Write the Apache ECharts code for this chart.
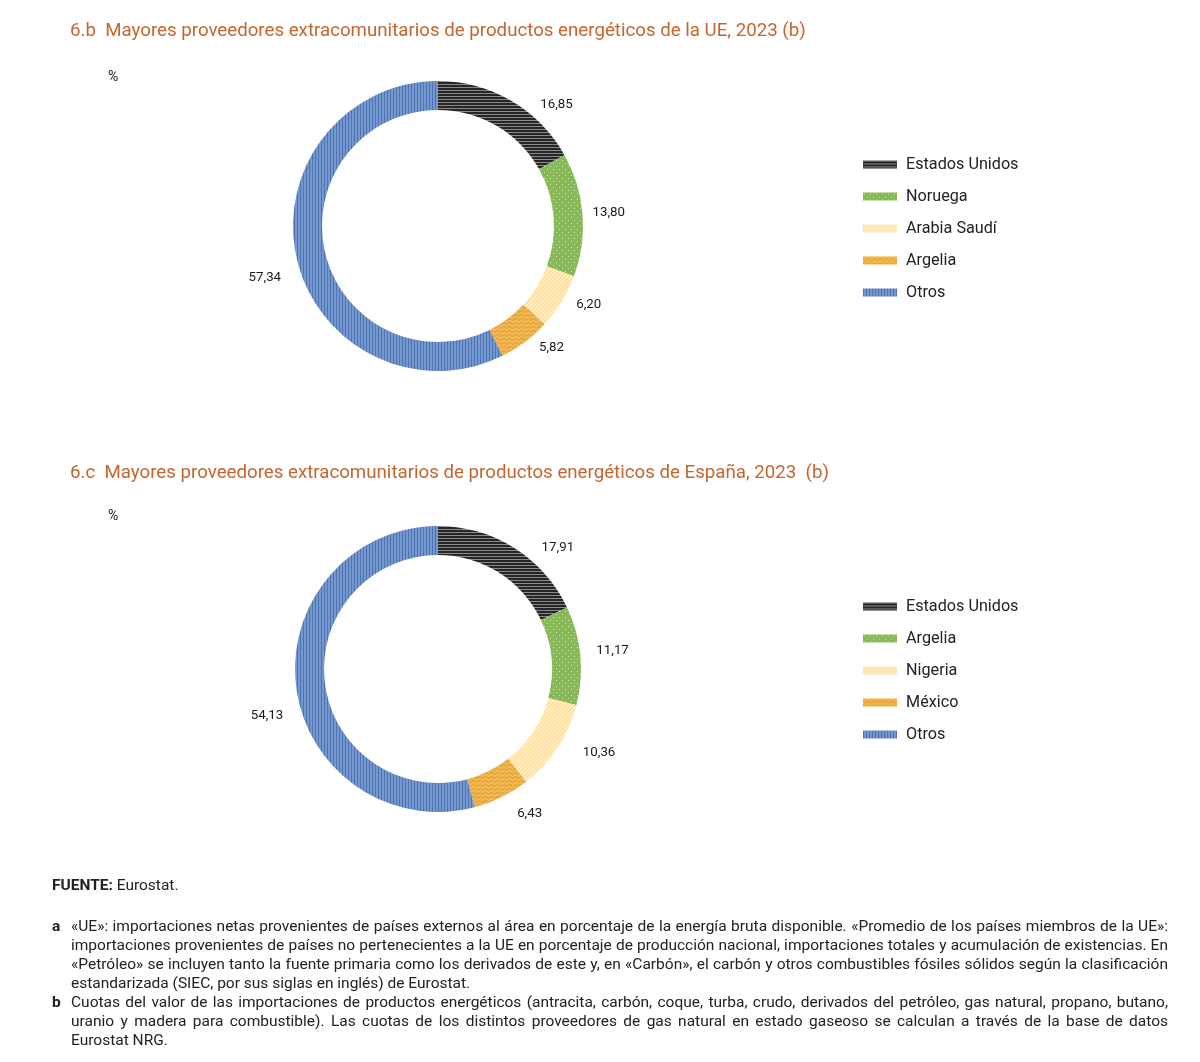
<!DOCTYPE html>
<html>
<head>
<meta charset="utf-8">
<script src="https://cdn.jsdelivr.net/npm/echarts@6/dist/echarts.min.js"></script>
<style>
  body { margin: 0; background: #fff; font-family: Roboto, sans-serif; }
  #wrap { position: relative; width: 1200px; height: 1062px; }
  .chart { position: absolute; left: 0; width: 1200px; height: 440px; }
  #notes { position: absolute; left: 52px; top: 876px; width: 1116px; color: #222; font-size: 15.5px; line-height: 19px; }
  #notes .src { margin-bottom: 22px; }
  #notes .row { display: flex; }
  #notes .row b { width: 19px; flex: none; }
  #notes .row .txt { flex: 1; }
  #notes .ln { text-align: justify; text-align-last: justify; }
  #notes .ln.last { text-align-last: left; }
</style>
</head>
<body>
<div id="wrap">
  <div id="c1" class="chart" style="top:0"></div>
  <div id="c2" class="chart" style="top:442px"></div>
  <div id="notes">
    <div class="src"><b>FUENTE:</b> Eurostat.</div>
    <div class="row"><b>a</b><div class="txt">
      <div class="ln">«UE»: importaciones netas provenientes de países externos al área en porcentaje de la energía bruta disponible. «Promedio de los países miembros de la UE»:</div>
      <div class="ln">importaciones provenientes de países no pertenecientes a la UE en porcentaje de producción nacional, importaciones totales y acumulación de existencias. En</div>
      <div class="ln">«Petróleo» se incluyen tanto la fuente primaria como los derivados de este y, en «Carbón», el carbón y otros combustibles fósiles sólidos según la clasificación</div>
      <div class="ln last">estandarizada (SIEC, por sus siglas en inglés) de Eurostat.</div>
    </div></div>
    <div class="row"><b>b</b><div class="txt">
      <div class="ln">Cuotas del valor de las importaciones de productos energéticos (antracita, carbón, coque, turba, crudo, derivados del petróleo, gas natural, propano, butano,</div>
      <div class="ln">uranio y madera para combustible). Las cuotas de los distintos proveedores de gas natural en estado gaseoso se calculan a través de la base de datos</div>
      <div class="ln last">Eurostat NRG.</div>
    </div></div>
  </div>
</div>
<script>
// 6.b  UE
var ueNames = ['Estados Unidos', 'Noruega', 'Arabia Saudí', 'Argelia', 'Otros'];
var ueValues = [16.85, 13.80, 6.20, 5.82, 57.34];
// 6.c  España
var esNames = ['Estados Unidos', 'Argelia', 'Nigeria', 'México', 'Otros'];
var esValues = [17.91, 11.17, 10.36, 6.43, 54.13];

// ajuste fino de las etiquetas (px), como en el original
var ueLabelNudge = [[14, 12], [-10, -1], [-4, -2], [-2, -2], [4, 16]];
var esLabelNudge = [[12, 8], [-4, -4], [7, 0], [1, 8], [7, 27]];

// tramas (rellenos) dibujadas en canvas
function makePattern(kind) {
  var c = document.createElement('canvas');
  var ctx = c.getContext('2d');
  if (kind == 'black') {
    c.width = 6; c.height = 3;
    ctx.fillStyle = '#262626'; ctx.fillRect(0, 0, 6, 3);
    ctx.fillStyle = '#8a8a8a'; ctx.fillRect(0, 0, 6, 1);
  } else if (kind == 'green') {
    c.width = 6; c.height = 6;
    ctx.fillStyle = '#87b956'; ctx.fillRect(0, 0, 6, 6);
    ctx.fillStyle = '#d3e8b8'; ctx.fillRect(1, 1, 1, 1); ctx.fillRect(4, 4, 1, 1);
  } else if (kind == 'yellow') {
    c.width = 4; c.height = 4;
    ctx.fillStyle = '#fde2ab'; ctx.fillRect(0, 0, 4, 4);
    ctx.fillStyle = '#fff4dc';
    for (var i = 0; i < 4; i++) ctx.fillRect(3 - i, i, 1, 1);
  } else if (kind == 'orange') {
    c.width = 6; c.height = 4;
    ctx.fillStyle = '#efa733'; ctx.fillRect(0, 0, 6, 4);
    ctx.fillStyle = '#f8c76e';
    ctx.fillRect(0, 0, 1, 1); ctx.fillRect(1, 1, 1, 1); ctx.fillRect(2, 2, 1, 1);
    ctx.fillRect(3, 1, 1, 1); ctx.fillRect(4, 0, 1, 1); ctx.fillRect(5, 1, 1, 1);
  } else {
    c.width = 3; c.height = 6;
    ctx.fillStyle = '#7397cf'; ctx.fillRect(0, 0, 3, 6);
    ctx.fillStyle = '#5073b0'; ctx.fillRect(0, 0, 1, 6);
  }
  return { image: c, repeat: 'repeat' };
}

var patterns = [makePattern('black'), makePattern('green'), makePattern('yellow'), makePattern('orange'), makePattern('blue')];

function fmt(v) { return v.toFixed(2).replace('.', ','); }

function drawDonut(domId, titleText, names, values, nudge, radius, center, pctTop) {
  var chart = echarts.init(document.getElementById(domId));
  var data = [];
  for (var i = 0; i < names.length; i++) {
    data.push({ name: names[i], value: values[i], itemStyle: { color: patterns[i] } });
  }
  var option = {
    animation: false,
    title: [{
      text: titleText,
      left: 70, top: 22, padding: 0,
      textStyle: { color: '#c6652f', fontSize: 18.7, fontWeight: 'normal', fontFamily: 'Roboto' }
    }, {
      text: '%',
      left: 108, top: pctTop, padding: 0,
      textStyle: { color: '#222', fontSize: 14, fontWeight: 'normal', fontFamily: 'Roboto' }
    }],
    legend: {
      orient: 'vertical',
      left: 863, top: 155, padding: 0,
      itemWidth: 34, itemHeight: 8, itemGap: 13,
      icon: 'rect',
      textStyle: { color: '#222', fontSize: 16.2, fontFamily: 'Roboto', lineHeight: 19, padding: [0, 0, 0, 4] },
      data: names
    },
    series: [{
      type: 'pie',
      center: center,
      radius: radius,
      startAngle: 90,
      clockwise: true,
      avoidLabelOverlap: false,
      data: data,
      label: {
        show: true,
        position: 'outside',
        formatter: function (p) { return fmt(p.value); },
        color: '#1a1a1a', fontSize: 13.3, fontFamily: 'Roboto',
        distanceToLabelLine: 4
      },
      labelLine: { show: false, length: 10, length2: 6 },
      labelLayout: function (p) {
        return { dx: nudge[p.dataIndex][0], dy: nudge[p.dataIndex][1] };
      },
      itemStyle: { borderWidth: 0 },
      emphasis: { disabled: true }
    }]
  };
  chart.setOption(option);
  return chart;
}

drawDonut('c1', '6.b  Mayores proveedores extracomunitarios de productos energéticos de la UE, 2023 (b)',
  ueNames, ueValues, ueLabelNudge, [116, 145], [438, 226], 70);
drawDonut('c2', '6.c  Mayores proveedores extracomunitarios de productos energéticos de España, 2023  (b)',
  esNames, esValues, esLabelNudge, [114, 143], [438, 227], 67);
</script>
</body>
</html>
